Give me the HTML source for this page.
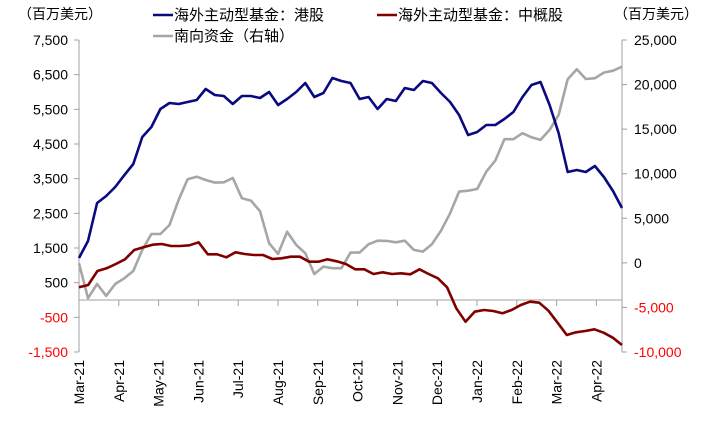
<!DOCTYPE html>
<html><head><meta charset="utf-8"><style>
body{margin:0;background:#fff;}
svg text{font-family:"Liberation Sans","Noto Sans CJK SC",sans-serif;}
</style></head><body>
<svg id="chart" width="706" height="417" xmlns="http://www.w3.org/2000/svg"></svg>
<script>
const months=["Mar-21","Apr-21","May-21","Jun-21","Jul-21","Aug-21","Sep-21","Oct-21","Nov-21","Dec-21","Jan-22","Feb-22","Mar-22","Apr-22"];
const leftTicks=[7500,6500,5500,4500,3500,2500,1500,500,-500,-1500];
const leftTickLabels=["7,500","6,500","5,500","4,500","3,500","2,500","1,500","500","-500","-1,500"];
const rightTicks=[25000,20000,15000,10000,5000,0,-5000,-10000];
const rightTickLabels=["25,000","20,000","15,000","10,000","5,000","0","-5,000","-10,000"];
const hkSeries=[1212,1702,2798,3000,3260,3600,3923,4702,4990,5510,5683,5654,5711,5769,6087,5913,5885,5654,5885,5885,5827,6000,5625,5798,6000,6260,5856,5971,6404,6317,6260,5798,5856,5510,5798,5740,6115,6058,6317,6260,5971,5711,5337,4760,4846,5048,5048,5221,5423,5856,6202,6288,5625,4817,3692,3750,3692,3865,3548,3144,2654];
const cnSeries=[366,433,837,914,1038,1174,1442,1520,1595,1615,1558,1558,1578,1664,1318,1318,1232,1376,1327,1298,1298,1183,1203,1249,1249,1105,1105,1174,1116,1038,886,886,750,799,750,770,741,886,750,626,366,-239,-626,-337,-288,-317,-384,-288,-144,-49,-78,-309,-655,-1010,-932,-894,-845,-943,-1087,-1298];
const southSeries=[-50,-3970,-2370,-3710,-2370,-1730,-910,1450,3240,3240,4250,7050,9380,9670,9300,9000,9040,9520,7250,6980,5800,2200,1000,3500,2010,1080,-1250,-420,-600,-600,1150,1150,2090,2490,2460,2310,2490,1450,1260,2090,3610,5560,7990,8100,8290,10230,11470,13870,13870,14540,14090,13790,14910,16590,20600,21720,20630,20710,21340,21560,22010];

const svg=document.getElementById('chart');
const NS='http://www.w3.org/2000/svg';
const X0=79,X1=622,YT=40,YB=352;
const yL=v=>YT+(7500-v)*(YB-YT)/9000;
const yR=v=>YT+(25000-v)*(YB-YT)/35000;
const xW=(i,n)=>X0+i*(X1-X0)/(n-1);
const xM=i=>X0+i*39.8;
function mk(tag,attrs,parent){const e=document.createElementNS(NS,tag);for(const k in attrs)e.setAttribute(k,attrs[k]);(parent||svg).appendChild(e);return e;}
const axisC='#a0a0a0';
let a=mk('line',{x1:X0,y1:YT,x2:X0,y2:YB,stroke:axisC,'stroke-width':1});


a=mk('line',{x1:X1,y1:YT,x2:X1,y2:YB,stroke:axisC,'stroke-width':1});


a=mk('line',{x1:X0,y1:yL(0),x2:X1,y2:yL(0),stroke:axisC,'stroke-width':1});


leftTicks.forEach((v,i)=>{
  const y=yL(v);
  mk('line',{x1:X0-5,y1:y,x2:X0,y2:y,stroke:axisC});
  const t=mk('text',{x:68,y:y+5,'text-anchor':'end','font-size':14,fill:v<0?'#ff0000':'#000'});
  t.textContent=leftTickLabels[i];
  
  
});
rightTicks.forEach((v,i)=>{
  const y=yR(v);
  mk('line',{x1:X1,y1:y,x2:X1+5,y2:y,stroke:axisC});
  const t=mk('text',{x:634,y:y+5,'text-anchor':'start','font-size':14,fill:v<0?'#ff0000':'#000'});
  t.textContent=rightTickLabels[i];
  
  
});
months.forEach((m,i)=>{
  const x=xM(i);
  mk('line',{x1:x,y1:yL(0),x2:x,y2:yL(0)+6,stroke:axisC});
  const t=mk('text',{x:0,y:0,'text-anchor':'end','font-size':14,fill:'#000',transform:`translate(${x+5},360) rotate(-90)`});
  t.textContent=m;
  
  
});
function line(data,yf,color,name){
  const p=mk('polyline',{points:data.map((v,i)=>xW(i,data.length).toFixed(1)+','+yf(v).toFixed(1)).join(' '),fill:'none',stroke:color,'stroke-width':2.6,'stroke-linejoin':'round'});
  
  
}
line(southSeries,yR,'#a6a6a6','southbound-line');
line(cnSeries,yL,'#800000','china-concept-line');
line(hkSeries,yL,'#0a0a80','hk-stock-line');
let t=mk('text',{x:18,y:19,'font-size':14,fill:'#000'});t.textContent='（百万美元）';


t=mk('text',{x:614,y:19,'font-size':14,fill:'#000'});t.textContent='（百万美元）';


function leg(x,y,color,label,name){
  const g=mk('g',{});
  
  
  mk('line',{x1:x,y1:y,x2:x+20,y2:y,stroke:color,'stroke-width':2.6},g);
  const tt=mk('text',{x:x+21,y:y+5,'font-size':15,fill:'#000'},g);tt.textContent=label;
}
leg(153,15,'#0a0a80','海外主动型基金：港股','legend-hk-stock');
leg(153,36,'#a6a6a6','南向资金（右轴）','legend-southbound');
leg(377,15,'#800000','海外主动型基金：中概股','legend-china-concept');
</script>
</body></html>
